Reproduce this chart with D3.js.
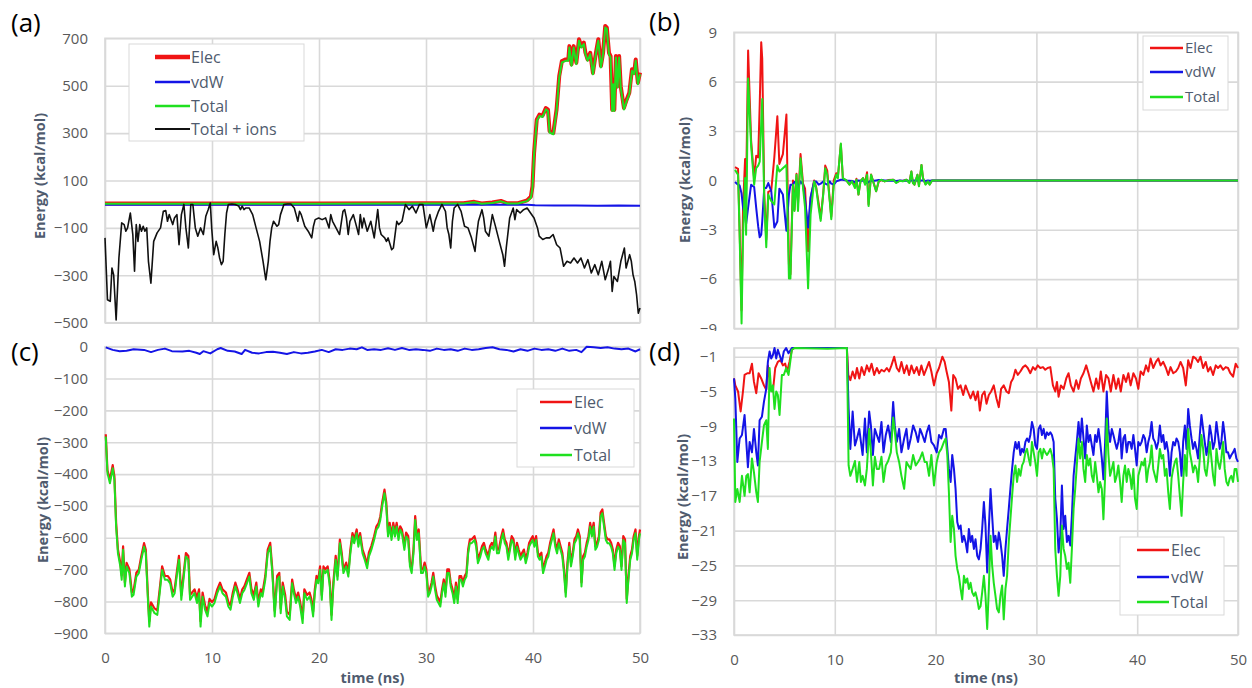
<!DOCTYPE html>
<html>
<head>
<meta charset="utf-8">
<script src="https://cdn.jsdelivr.net/npm/d3@7"></script>
<style>
  body { margin: 0; background: #fff; }
  svg { font-family: "Open Sans", sans-serif; }
  .grid line { stroke: #d9d9d9; stroke-width: 1.6; }
  .grid path { display: none; }
  .ticks text { font-size: 15px; fill: #595959; font-family: "Open Sans", sans-serif; }
  .axis-title { font-size: 14.5px; font-weight: bold; fill: #4f5b6e; }
  .legend text { font-size: 16px; fill: #4f5b6e; }
  .panel-label { font-size: 26px; fill: #000; }
</style>
</head>
<body>
<div id="chart"></div>
<script>
// shared x ticks (time, ns)
const xTicks = [0, 10, 20, 30, 40, 50];

// ---------- panel (a) ----------
const aTicks = [-500, -300, -100, 100, 300, 500, 700];
const aTime = [0, 10, 20, 30, 33.5, 34.5, 35.2, 36.2, 37.0, 37.6, 38.6, 39.0, 39.45, 39.8, 39.95, 40.1,
  40.35, 40.6, 40.9, 41.2, 41.4, 41.55, 41.9, 42.2, 42.45, 42.7, 43.05, 43.3, 43.4, 43.6, 43.8, 44.05,
  44.3, 44.5, 44.75, 44.9, 45.1, 45.35, 45.6, 45.88, 46.1, 46.35, 46.55, 46.75, 46.9, 47.1, 47.25, 47.4,
  47.5, 47.6, 47.75, 47.9, 48.05, 48.2, 48.5, 48.75, 49.0, 49.25, 49.45, 49.6, 49.8, 50];
const aElec = [3, 3, 3, 4, 4, 10, 3, 7, 14, 4, 4, 10, 16, 32, 75, 216, 357, 378, 374, 406, 399, 308,
  301, 399, 540, 604, 611, 611, 667, 590, 667, 597, 696, 667, 682, 639, 611, 639, 554, 639, 696, 583,
  639, 752, 745, 639, 625, 399, 512, 399, 625, 498, 625, 498, 406, 441, 470, 569, 555, 611, 512, 555];
const aTotal = [2, 2, 2, 3, 3, 8, 2, 5, 12, 3, 3, 8, 13, 27, 69, 210, 351, 372, 368, 400, 393, 302,
  295, 393, 534, 598, 605, 605, 661, 584, 661, 591, 690, 661, 676, 633, 605, 633, 548, 633, 690, 577,
  633, 746, 739, 633, 619, 393, 506, 393, 619, 492, 619, 492, 400, 435, 464, 563, 549, 605, 506, 549];
const aVdwTime = [0, 10, 20, 30, 39.5, 40.2, 42, 44, 46, 48, 50];
const aVdw = [-2, -2, -2, -2, -2, -4, -5, -6, -7, -6, -7];
const aIonsTime = [0, 0.23, 0.49, 0.65, 0.81, 1.04, 1.3, 1.56, 1.79, 1.95,
  2.11, 2.37, 2.6, 2.76, 2.92, 3.08, 3.25, 3.41, 3.57, 3.73,
  3.9, 4.06, 4.29, 4.55, 4.87, 5.19, 5.45, 5.68, 5.84, 6.0,
  6.33, 6.49, 6.72, 6.92, 7.14, 7.37, 7.56, 7.79, 8.02, 8.21,
  8.44, 8.67, 8.93, 9.19, 9.42, 9.64, 9.84, 9.97, 10.16, 10.39,
  10.55, 10.71, 10.88, 11.04, 11.2, 11.36, 11.53, 11.85, 12.18, 12.5,
  12.66, 12.82, 12.99, 13.15, 13.47, 13.8, 14.12, 14.45, 14.77, 15.03,
  15.26, 15.42, 15.58, 15.75, 16.07, 16.23, 16.4, 16.72, 17.05, 17.37,
  17.69, 17.86, 18.02, 18.18, 18.34, 18.67, 18.99, 19.32, 19.48, 19.64,
  19.97, 20.29, 20.62, 20.94, 21.1, 21.27, 21.59, 21.92, 22.24, 22.4,
  22.56, 22.73, 22.89, 23.21, 23.54, 23.7, 23.86, 24.03, 24.19, 24.51,
  24.84, 25.16, 25.49, 25.65, 25.81, 26.14, 26.3, 26.46, 26.79, 26.95,
  27.11, 27.27, 27.44, 27.76, 28.08, 28.41, 28.73, 29.06, 29.38, 29.71,
  30.03, 30.36, 30.68, 30.84, 31.17, 31.49, 31.66, 31.82, 31.98, 32.14,
  32.31, 32.47, 32.63, 32.95, 33.28, 33.6, 33.93, 34.25, 34.58, 34.74,
  34.9, 35.23, 35.39, 35.55, 35.88, 36.2, 36.53, 36.85, 37.18, 37.34,
  37.5, 37.82, 38.15, 38.31, 38.47, 38.8, 39.12, 39.45, 39.77, 40.1,
  40.42, 40.58, 40.91, 41.23, 41.56, 41.88, 42.21, 42.53, 42.86, 43.18,
  43.51, 43.83, 44.16, 44.48, 44.81, 45.13, 45.45, 45.78, 46.1, 46.43,
  46.75, 47.08, 47.24, 47.4, 47.56, 47.89, 48.21, 48.54, 48.7, 49.03,
  49.19, 49.35, 49.51, 49.68, 49.84, 50];
const aIons = [-142, -403, -410, -269, -298, -488, -227, -79, -86, -114,
  -100, -37, -128, -283, -86, -157, -86, -114, -93, -114,
  -100, -241, -333, -157, -121, -100, -30, -27, -72, -44,
  -86, -58, -44, -171, -44, -1, -100, -185, -1, -1,
  -100, -135, -100, -128, -51, -23, 5, -100, -213, -157,
  -185, -227, -255, -241, -128, -37, -1, 1, -1, -8,
  -23, -8, -23, -16, -16, -44, -100, -157, -241, -319,
  -241, -157, -100, -72, -93, -86, -44, -1, 1, 1,
  -16, -44, -72, -30, -44, -93, -114, -142, -93, -65,
  -58, -65, -58, -100, -44, -72, -100, -128, -30, -23,
  -58, -128, -72, -44, -100, -128, -44, -100, -58, -114,
  -72, -142, -23, -100, -128, -142, -157, -142, -192, -185,
  -128, -72, -86, -72, -1, -23, -8, -37, -1, -1,
  -100, -44, -114, -72, -30, -1, -16, -30, -100, -128,
  -185, -72, -16, -1, -30, -93, -100, -142, -199, -128,
  -72, -23, -58, -114, -135, -44, -100, -157, -213, -262,
  -185, -58, -16, -65, -23, -37, -23, -16, -37, -58,
  -100, -135, -149, -142, -142, -128, -171, -185, -262, -241,
  -248, -227, -248, -227, -269, -234, -290, -255, -298, -241,
  -319, -269, -241, -368, -305, -326, -241, -185, -269, -213,
  -241, -298, -326, -382, -460, -438];

// ---------- panel (b) ----------
const bTicks = [-9, -6, -3, 0, 3, 6, 9];
const bTime = [0.1, 0.4, 0.55, 0.75, 0.9, 1.1, 1.2, 1.4, 1.7, 2.0,
  2.2, 2.4, 2.55, 2.7, 2.8, 3.0, 3.2, 3.4, 3.7, 4.0,
  4.3, 4.5, 4.85, 5.2, 5.45, 5.6, 5.85, 6.0, 6.2, 6.35,
  6.6, 6.85, 7.05, 7.35, 7.6, 7.95, 8.15, 8.4, 8.6, 8.85,
  9.05, 9.25, 9.5, 9.65, 9.9, 10.15, 10.3, 10.6, 10.8, 11.15,
  11.45, 11.7, 12.0, 12.15, 12.35, 12.55, 12.8, 13.0, 13.2, 13.35,
  13.6, 13.9, 14.1, 14.35, 14.6, 14.95, 15.3, 15.8, 16.1, 16.45,
  16.75, 17.1, 17.4, 17.6, 17.75, 17.9, 18.2, 18.35, 18.6, 18.75,
  19.0, 19.25, 19.4, 19.65, 20, 30, 40, 50];
const bElec = [0.8, 0.7, -2.8, -7.9, -1.6, 1.3, -0.6, 7.9, 2.4, 0.1,
  1.5, 1.4, 4.6, 8.4, 7.4, -0.8, -3.6, -0.7, -0.6, 1.4,
  3.9, 1.0, 1.6, 4.0, -5.1, -5.7, 0.0, -1.8, 0.4, -1.4,
  1.6, -0.2, -0.5, -4.3, -1.1, 0.0, -0.4, -1.4, -2.3, -0.8,
  0.9, 0.6, -1.2, -2.2, 0.0, 0.44, 0.16, 2.2, 0.1, 0,
  -0.24, -0.02, -0.36, 0.1, -0.86, -0.04, 0.14, -0.16, 0.5, -1.46,
  0.36, -0.24, -0.66, -0.08, 0.02, -0.06, 0.02, 0.04, -0.12, -0.02,
  -0.04, 0.04, -0.12, 0.54, -0.14, -0.26, 0.34, -0.34, 0.94, 0.14,
  -0.22, -0.06, -0.24, 0, 0, 0, 0, 0];
const bVdw = [-0.1, -0.26, -0.3, -0.8, -1.66, -2.2, -2.66, -1.66, -0.26, -0.4,
  -1.66, -2.8, -3.46, -3.3, -2.5, -0.46, -0.46, -0.16, -0.66, -2.86,
  -2.5, -0.5, -0.86, -3.06, -0.86, -0.26, -0.26, -0.1, -0.06, -0.46,
  -0.06, -0.26, -1.2, -2.86, -1.0, -0.06, -0.06, -0.26, -0.2, -0.06,
  -0.2, -0.26, -0.06, -0.2, -0.26, -0.06, -0.02, 0.04, 0.04, 0,
  -0.02, -0.04, -0.1, -0.06, 0, -0.02, 0, -0.1, -0.16, -0.1,
  -0.02, -0.02, 0, 0.02, 0.02, 0, -0.02, 0, -0.04, 0,
  -0.02, 0, -0.04, 0, -0.02, 0, 0, -0.02, 0, 0,
  -0.04, 0, -0.02, 0, 0, 0, 0, 0];
const bTotal = [0.64, 0.34, -3.1, -8.7, -3.3, 0.14, -3.3, 6.2, 2.1, -0.26,
  0.74, 0.9, 1.14, 3.5, 4.94, -1.26, -4.06, -0.86, -1.26, -1.46,
  0.9, 0.54, 0.74, 0.94, -5.96, -5.96, -0.26, -1.86, 0.34, -1.86,
  1.34, -0.46, -1.66, -6.56, -2.06, -0.06, -0.46, -1.66, -2.46, -0.86,
  0.74, 0.34, -1.26, -2.36, -0.26, 0.34, 0.14, 2.24, 0.14, 0,
  -0.26, -0.06, -0.46, 0.04, -0.86, -0.06, 0.14, -0.26, 0.34, -1.56,
  0.34, -0.26, -0.66, -0.06, 0.04, -0.06, 0, 0.04, -0.16, -0.02,
  -0.06, 0.04, -0.16, 0.54, -0.16, -0.26, 0.34, -0.36, 0.94, 0.14,
  -0.26, -0.06, -0.26, 0, 0, 0, 0, 0];

// ---------- panel (c) ----------
const cTicks = [0, -100, -200, -300, -400, -500, -600, -700, -800, -900];
const cTime = [0.07, 0.23, 0.46, 0.72, 0.88, 1.04, 1.21, 1.43, 1.56, 1.69,
  1.86, 2.02, 2.28, 2.51, 2.67, 2.93, 3.16, 3.39, 3.65, 3.81,
  4.04, 4.14, 4.3, 4.63, 4.89, 5.11, 5.34, 5.6, 5.86, 6.09,
  6.32, 6.51, 6.74, 6.91, 7.13, 7.33, 7.56, 7.79, 7.95, 8.14,
  8.37, 8.6, 8.79, 8.93, 9.12, 9.35, 9.58, 9.77, 10.0, 10.23,
  10.49, 10.75, 10.98, 11.3, 11.53, 11.73, 11.95, 12.18, 12.38, 12.61,
  12.83, 13.03, 13.26, 13.49, 13.68, 13.91, 14.14, 14.33, 14.56, 14.72,
  14.98, 15.21, 15.44, 15.64, 15.86, 16.09, 16.29, 16.42, 16.61, 16.84,
  17.0, 17.26, 17.49, 17.65, 17.85, 18.05, 18.24, 18.47, 18.63, 18.89,
  19.12, 19.28, 19.45, 19.61, 19.77, 19.93, 20.1, 20.26, 20.42, 20.59,
  20.81, 21.01, 21.17, 21.34, 21.56, 21.73, 21.95, 22.12, 22.28, 22.54,
  22.74, 22.93, 23.13, 23.29, 23.52, 23.68, 23.84, 24.07, 24.27, 24.5,
  24.66, 24.89, 25.15, 25.37, 25.57, 25.73, 25.9, 26.12, 26.29, 26.45,
  26.61, 26.78, 26.94, 27.1, 27.26, 27.43, 27.59, 27.75, 27.98, 28.14,
  28.34, 28.5, 28.66, 28.83, 28.99, 29.15, 29.32, 29.54, 29.71, 29.87,
  30.03, 30.2, 30.36, 30.52, 30.68, 30.85, 31.01, 31.17, 31.34, 31.5,
  31.66, 31.82, 31.99, 32.15, 32.31, 32.48, 32.64, 32.8, 32.96, 33.13,
  33.29, 33.45, 33.62, 33.78, 33.94, 34.1, 34.27, 34.53, 34.69, 34.85,
  35.08, 35.24, 35.41, 35.57, 35.83, 35.99, 36.16, 36.32, 36.48, 36.64,
  36.81, 37.04, 37.2, 37.36, 37.52, 37.69, 37.85, 38.01, 38.18, 38.34,
  38.5, 38.66, 38.83, 38.99, 39.15, 39.32, 39.48, 39.64, 39.8, 39.97,
  40.13, 40.29, 40.46, 40.62, 40.78, 40.94, 41.11, 41.27, 41.43, 41.6,
  41.76, 41.92, 42.08, 42.25, 42.41, 42.57, 42.74, 42.9, 43.06, 43.22,
  43.39, 43.55, 43.71, 43.88, 44.04, 44.2, 44.37, 44.53, 44.69, 44.85,
  45.02, 45.18, 45.34, 45.5, 45.67, 45.83, 45.99, 46.16, 46.32, 46.48,
  46.64, 46.81, 46.97, 47.13, 47.3, 47.46, 47.62, 47.78, 47.95, 48.11,
  48.27, 48.44, 48.6, 48.76, 48.92, 49.09, 49.25, 49.41, 49.58, 49.74,
  49.9, 50.0];
const cElec = [-275, -388, -418, -372, -407, -553, -637, -679, -718, -627,
  -741, -679, -699, -771, -766, -710, -700, -658, -617, -637,
  -800, -862, -803, -822, -828, -762, -690, -720, -720, -731,
  -771, -762, -700, -657, -780, -720, -648, -657, -780, -772,
  -762, -790, -762, -862, -772, -812, -833, -792, -802, -793,
  -762, -741, -762, -772, -802, -812, -772, -741, -762, -792,
  -762, -752, -731, -710, -760, -780, -741, -802, -762, -772,
  -720, -637, -616, -700, -830, -720, -710, -822, -741, -780,
  -832, -842, -731, -762, -792, -772, -802, -852, -762, -780,
  -772, -792, -832, -762, -720, -731, -690, -780, -690, -700,
  -690, -740, -842, -741, -657, -720, -606, -647, -700, -678,
  -710, -637, -585, -605, -574, -616, -585, -637, -657, -683,
  -647, -626, -595, -564, -554, -533, -491, -449, -490, -583,
  -553, -595, -553, -584, -553, -595, -564, -574, -625, -584,
  -595, -677, -698, -637, -532, -595, -574, -698, -699, -678,
  -699, -771, -762, -741, -710, -751, -781, -792, -802, -762,
  -731, -772, -699, -699, -741, -762, -792, -741, -792, -720,
  -720, -741, -720, -710, -637, -605, -605, -595, -616, -667,
  -647, -626, -616, -637, -657, -626, -616, -626, -584, -637,
  -637, -595, -574, -605, -616, -657, -626, -595, -605, -657,
  -616, -637, -657, -647, -637, -668, -647, -616, -605, -595,
  -616, -595, -647, -657, -647, -698, -678, -657, -647, -616,
  -595, -574, -616, -637, -605, -626, -647, -698, -771, -678,
  -616, -678, -647, -605, -595, -574, -595, -740, -657, -647,
  -616, -595, -553, -584, -553, -626, -616, -595, -521, -511,
  -553, -595, -605, -605, -616, -637, -688, -637, -616, -626,
  -689, -595, -605, -792, -720, -657, -637, -595, -574, -657,
  -595, -574];
const cTotal = [-282, -397, -429, -382, -418, -565, -649, -690, -732, -638,
  -753, -690, -711, -785, -779, -722, -711, -669, -628, -649,
  -816, -879, -816, -837, -842, -774, -701, -732, -732, -743,
  -785, -774, -711, -669, -795, -732, -659, -669, -795, -785,
  -774, -805, -774, -879, -785, -826, -847, -805, -816, -805,
  -774, -753, -774, -785, -816, -826, -785, -753, -774, -805,
  -774, -764, -743, -722, -774, -795, -753, -816, -774, -785,
  -732, -649, -628, -711, -847, -732, -722, -837, -753, -795,
  -847, -858, -743, -774, -805, -785, -816, -868, -774, -795,
  -785, -805, -847, -774, -732, -743, -701, -795, -701, -711,
  -701, -753, -858, -753, -669, -732, -617, -659, -711, -690,
  -722, -649, -596, -617, -586, -628, -596, -649, -669, -696,
  -659, -638, -607, -575, -565, -544, -502, -460, -502, -596,
  -565, -607, -565, -596, -565, -607, -575, -586, -638, -596,
  -607, -690, -711, -649, -544, -607, -586, -711, -711, -690,
  -711, -785, -774, -753, -722, -764, -795, -805, -816, -774,
  -743, -785, -711, -711, -753, -774, -805, -753, -805, -732,
  -732, -753, -732, -722, -649, -617, -617, -607, -628, -680,
  -659, -638, -628, -649, -669, -638, -628, -638, -596, -649,
  -649, -607, -586, -617, -628, -669, -638, -607, -617, -669,
  -628, -649, -669, -659, -649, -680, -659, -628, -617, -607,
  -628, -607, -659, -669, -659, -711, -690, -669, -659, -628,
  -607, -586, -628, -649, -617, -638, -659, -711, -785, -690,
  -628, -690, -659, -617, -607, -586, -607, -753, -669, -659,
  -628, -607, -565, -596, -565, -638, -628, -607, -533, -523,
  -565, -607, -617, -617, -628, -649, -701, -649, -628, -638,
  -701, -607, -617, -805, -732, -669, -649, -607, -586, -669,
  -607, -586];
const cVdwTime = [0.07, 0.72, 1.37, 2.02, 2.67, 3.65, 4.3, 4.95, 5.6, 6.25,
  7.23, 7.88, 8.53, 8.86, 9.19, 9.84, 10.49, 10.81, 11.47, 12.12,
  12.77, 13.09, 13.75, 14.4, 15.05, 15.7, 16.35, 17.0, 17.65, 18.31,
  18.96, 19.61, 20.26, 20.91, 21.56, 22.21, 22.87, 23.52, 24.01, 24.5,
  25.15, 25.8, 26.45, 27.1, 27.75, 28.4, 29.06, 29.71, 30.36, 31.01,
  31.66, 32.31, 32.96, 33.62, 34.27, 34.92, 35.57, 36.22, 36.87, 37.52,
  38.18, 38.83, 39.48, 40.13, 40.78, 41.43, 42.08, 42.74, 43.39, 44.04,
  44.53, 45.02, 45.67, 46.32, 46.97, 47.62, 48.27, 48.92, 49.58, 50];
const cVdw = [-2, -10, -14, -13, -8, -10, -17, -10, -6, -14,
  -15, -13, -19, -23, -14, -21, -8, -4, -13, -15,
  -23, -10, -19, -21, -17, -16, -19, -23, -17, -21,
  -19, -15, -10, -17, -8, -10, -6, -8, -2, -10,
  -8, -10, -5, -10, -4, -10, -8, -10, -13, -6,
  -10, -8, -13, -6, -10, -8, -4, -2, -8, -10,
  -15, -8, -13, -6, -10, -8, -13, -6, -13, -10,
  -17, 0, -2, -4, -2, -6, -8, -6, -15, -8];

// ---------- panel (d) ----------
const dTicks = [-33, -29, -25, -21, -17, -13, -9, -5, -1];
const dTime = [0, 0.13, 0.33, 0.56, 0.79, 1.05, 1.22, 1.38, 1.55, 1.78,
  1.98, 2.21, 2.37, 2.54, 2.77, 2.97, 3.2, 3.36, 3.53, 3.69,
  3.86, 4.02, 4.19, 4.35, 4.52, 4.75, 4.94, 5.17, 5.41, 5.74,
  6.0, 9.3, 11.2,
  11.37, 11.54, 11.77, 12.0, 12.2, 12.43, 12.59, 12.76, 12.99, 13.18,
  13.41, 13.58, 13.78, 13.97, 14.17, 14.4, 14.63, 14.83, 15.06, 15.29,
  15.56, 15.79, 15.95, 16.15, 16.38, 16.61, 16.88, 17.11, 17.3, 17.53,
  17.77, 18.03, 18.26, 18.46, 18.69, 18.92, 19.12, 19.35, 19.58, 19.84,
  20.11, 20.34, 20.57, 20.83, 21.0,
  21.16, 21.32, 21.49, 21.65, 21.82, 21.98, 22.15, 22.31, 22.48, 22.64,
  22.81, 22.97, 23.14, 23.30, 23.47, 23.63, 23.80, 23.96, 24.13, 24.29,
  24.46, 24.62, 24.79, 24.95, 25.12, 25.28, 25.45, 25.61, 25.77, 25.94,
  26.10, 26.27, 26.43, 26.60, 26.76, 26.93, 27.09, 27.26, 27.42, 27.59,
  27.75, 27.92, 28.08, 28.25, 28.41, 28.58, 28.74, 28.91, 29.07, 29.24,
  29.40, 29.56, 29.73, 29.89, 30.06, 30.22, 30.39, 30.55, 30.72, 30.88,
  31.05, 31.21, 31.38, 31.54, 31.71, 31.87, 32.04, 32.20, 32.37, 32.53,
  32.70, 32.86, 33.03, 33.19, 33.36, 33.52, 33.69, 33.85, 34.01, 34.18,
  34.34, 34.51, 34.67, 34.84, 35.00, 35.17, 35.33, 35.50, 35.66, 35.83,
  35.99, 36.16, 36.32, 36.49, 36.65, 36.82, 36.98, 37.15, 37.31, 37.48,
  37.64, 37.80, 37.97, 38.13, 38.30, 38.46, 38.63, 38.79, 38.96, 39.12,
  39.29, 39.45, 39.62, 39.78, 39.95, 40.11, 40.28, 40.44, 40.61, 40.77,
  40.94, 41.10, 41.27, 41.43, 41.59, 41.76, 41.92, 42.09, 42.25, 42.42,
  42.58, 42.75, 42.91, 43.08, 43.24, 43.41, 43.57, 43.74, 43.90, 44.07,
  44.23, 44.40, 44.56, 44.73, 44.89, 45.06, 45.22, 45.39, 45.55, 45.72,
  45.88, 46.04, 46.21, 46.37, 46.54, 46.70, 46.87, 47.03, 47.20, 47.36,
  47.53, 47.69, 47.86, 48.02, 48.19, 48.35, 48.52, 48.68, 48.85, 49.01,
  49.18, 49.34, 49.51, 49.67, 49.84, 50.00];
const dVdw = [-3.5, -5.8, -13.1, -10.4, -10.0, -7.7, -10.8, -13.7, -10.8, -12.0,
  -9.3, -12.0, -13.5, -8.3, -7.9, -6.2, -4.7, -1.6, -0.4, -1.2,
  -0.8, 0, -1.2, -0.2, -0.8, -1.6, -0.4, 0, -0.6, 0,
  0, 0, 0,
  -7.0, -11.6, -7.3, -11.2, -10.4, -9.3, -10.8, -12.3, -8.1, -12.0,
  -7.3, -8.9, -12.3, -9.3, -10.0, -10.8, -8.5, -12.0, -10.0, -8.9,
  -10.8, -6.2, -8.9, -10.8, -9.3, -12.0, -10.4, -9.3, -11.6, -10.4,
  -8.9, -9.7, -10.8, -9.3, -10.0, -10.8, -9.7, -8.9, -10.8, -11.2,
  -12.0, -10.0, -10.4, -9.3, -9.3,
  -11.5, -13.9, -15.4, -12.3, -13.9, -16.2, -20.0, -20.8, -20.4, -22.3,
  -21.6, -22.3, -23.5, -20.8, -22.3, -21.6, -23.1, -22.0, -23.9, -24.3,
  -23.1, -20.8, -17.7, -20.4, -25.8, -20.8, -16.2, -19.3, -22.3, -21.6,
  -23.1, -21.2, -22.3, -23.9, -26.2, -23.1, -20.8, -18.5, -16.2, -13.9,
  -12.0, -10.8, -11.6, -10.8, -12.3, -11.6, -12.0, -10.8, -10.4, -10.8,
  -10.0, -8.5, -9.3, -11.2, -11.6, -9.3, -8.9, -10.0, -9.3, -10.4,
  -9.7, -10.0, -9.7, -10.0, -10.8, -17.3, -19.7, -23.5, -21.6, -15.8,
  -20.8, -19.3, -22.3, -21.6, -22.7, -19.3, -14.7, -12.7, -10.8, -8.5,
  -10.8, -8.1, -10.4, -12.7, -8.9, -10.8, -10.0, -11.2, -12.3, -10.0,
  -10.8, -9.3, -10.8, -12.7, -15.1, -10.8, -5.0, -9.3, -10.8, -9.3,
  -10.0, -10.8, -11.6, -10.8, -9.3, -12.7, -10.4, -10.0, -12.0, -10.8,
  -10.8, -11.6, -10.0, -11.6, -13.5, -10.8, -11.2, -10.8, -10.0, -10.4,
  -12.0, -10.8, -10.0, -8.5, -10.4, -10.8, -11.6, -10.8, -8.9, -10.8,
  -10.0, -11.6, -10.8, -12.0, -14.7, -12.0, -10.8, -11.2, -10.4, -10.8,
  -12.0, -14.7, -10.8, -8.9, -11.6, -7.0, -8.9, -10.4, -11.6, -10.8,
  -11.6, -12.7, -10.0, -7.7, -9.3, -10.8, -12.3, -11.2, -8.9, -10.0,
  -11.6, -10.8, -8.5, -10.0, -11.6, -10.8, -8.5, -10.0, -12.0, -12.0,
  -12.7, -12.3, -12.0, -11.6, -12.7, -13.1];
const dTotal = [-8.1, -17.7, -16.2, -17.7, -14.7, -17.0, -14.7, -14.5, -16.6, -12.7,
  -14.3, -16.6, -17.7, -13.1, -10.8, -8.9, -8.3, -11.6, -2.3, -5.0,
  -4.3, -7.0, -5.0, -5.4, -7.7, -3.1, -3.1, -2.3, -3.1, -0.2,
  0, -0.1, 0,
  -13.5, -14.7, -13.9, -13.0, -15.4, -13.1, -15.4, -14.7, -15.8, -13.9,
  -9.3, -12.0, -15.8, -12.5, -13.9, -13.9, -12.5, -15.4, -13.5, -13.0,
  -12.0, -8.0, -9.5, -12.0, -13.1, -14.7, -16.2, -13.1, -13.5, -13.9,
  -12.3, -13.5, -13.1, -12.7, -12.0, -13.1, -13.1, -14.7, -12.3, -15.8,
  -13.1, -12.0, -11.6, -10.8, -10.4,
  -12.3, -16.6, -22.3, -19.3, -20.8, -23.9, -25.4, -26.2, -27.7, -28.9,
  -26.2, -27.0, -26.5, -27.7, -27.0, -28.1, -28.5, -28.1, -28.9, -30.0,
  -29.7, -28.1, -26.2, -28.5, -32.3, -27.7, -21.6, -25.0, -27.0, -28.5,
  -30.0, -30.4, -28.5, -27.3, -31.2, -27.7, -26.2, -22.3, -19.7, -17.0,
  -14.7, -13.5, -15.4, -13.9, -14.7, -13.5, -13.1, -12.0, -11.6, -12.7,
  -13.5, -10.8, -12.0, -13.1, -14.7, -12.0, -11.6, -12.7, -11.6, -12.0,
  -12.3, -12.0, -11.6, -12.3, -13.9, -23.1, -26.2, -28.5, -26.2, -20.4,
  -23.1, -23.9, -25.4, -24.7, -27.0, -23.1, -18.5, -16.2, -13.5, -10.4,
  -12.7, -10.8, -13.9, -15.4, -12.3, -13.5, -12.7, -14.7, -15.4, -13.1,
  -14.7, -16.6, -15.4, -16.2, -19.7, -14.7, -8.1, -12.3, -14.7, -13.9,
  -13.1, -15.4, -14.7, -13.5, -15.4, -17.7, -14.7, -13.5, -15.4, -13.9,
  -14.7, -16.2, -13.9, -17.3, -18.5, -14.7, -13.9, -13.1, -13.5, -12.7,
  -15.4, -13.9, -13.1, -11.2, -13.9, -14.7, -15.4, -13.5, -11.6, -12.7,
  -12.3, -14.7, -13.9, -16.6, -18.5, -15.0, -13.9, -13.1, -12.7, -14.7,
  -17.0, -19.3, -15.4, -12.3, -14.7, -9.3, -12.0, -13.1, -14.3, -13.5,
  -13.9, -15.4, -12.7, -10.0, -11.6, -13.9, -14.7, -13.1, -10.8, -12.7,
  -14.7, -15.8, -11.6, -13.1, -13.9, -12.7, -10.8, -13.9, -15.4, -15.8,
  -15.0, -14.7, -15.4, -13.9, -13.9, -15.4];
const dElecTime = [0, 0.13, 0.4, 0.66, 0.89, 1.05, 1.32, 1.55, 1.78, 1.98,
  2.21, 2.44, 2.7, 2.97, 3.2, 3.36, 3.63, 3.86, 4.09, 4.35,
  4.61, 4.85, 5.08, 5.27, 5.5, 5.74, 6.0, 11.2, 11.34, 11.54,
  11.77, 12.0, 12.2, 12.43, 12.66, 12.92, 13.18, 13.41, 13.65, 13.91,
  14.17, 14.4, 14.63, 14.9, 15.16, 15.39, 15.62, 15.89, 16.15, 16.38,
  16.61, 16.88, 17.14, 17.37, 17.6, 17.86, 18.13, 18.36, 18.59, 18.85,
  19.12, 19.35, 19.58, 19.84, 20.11, 20.34, 20.67, 20.9, 21.09, 21.32,
  21.56, 21.75, 21.98, 22.22, 22.48, 22.74, 22.97, 23.2, 23.47, 23.73,
  23.96, 24.19, 24.39, 24.62, 24.85, 25.05, 25.28, 25.51, 25.77, 26.04,
  26.27, 26.5, 26.76, 27.03, 27.26, 27.49, 27.69, 27.92, 28.15, 28.41,
  28.67, 28.91, 29.14, 29.4, 29.66, 29.89, 30.13, 30.39, 30.65, 30.88,
  31.11, 31.38, 31.64, 31.87, 32.04, 32.2, 32.43, 32.7, 32.96, 33.19,
  33.42, 33.69, 33.95, 34.18, 34.41, 34.67, 34.94, 35.17, 35.4, 35.66,
  35.93, 36.16, 36.39, 36.65, 36.91, 37.15, 37.38, 37.64, 37.9, 38.13,
  38.37, 38.63, 38.89, 39.12, 39.35, 39.62, 39.88, 40.11, 40.34, 40.61,
  40.87, 41.1, 41.33, 41.59, 41.86, 42.09, 42.32, 42.58, 42.85, 43.08,
  43.31, 43.57, 43.84, 44.07, 44.3, 44.56, 44.82, 45.06, 45.29, 45.55,
  45.81, 46.04, 46.28, 46.54, 46.8, 47.03, 47.26, 47.53, 47.79, 48.02,
  48.25, 48.52, 48.78, 49.01, 49.24, 49.51, 49.77, 50];
const dElec = [-3.5, -4.3, -5.0, -7.3, -5.0, -3.1, -2.9, -2.9, -1.8, -3.9,
  -5.2, -2.9, -3.5, -4.3, -4.8, -2.0, -4.7, -5.0, -2.3, -1.6,
  -1.4, -2.0, -1.8, -2.7, -1.6, -0.2, 0, 0, -3.1, -3.7,
  -2.7, -3.5, -2.3, -3.5, -2.2, -3.1, -2.0, -2.7, -1.8, -3.1,
  -2.3, -2.9, -2.5, -2.7, -2.3, -2.7, -2.0, -1.0, -2.3, -2.7,
  -1.6, -2.9, -2.0, -3.1, -2.0, -2.9, -2.2, -3.1, -2.0, -3.1,
  -2.3, -1.6, -2.7, -4.3, -2.9, -2.3, -1.0, -1.6, -2.7, -3.9,
  -7.2, -3.1, -3.5, -4.7, -4.3, -5.4, -4.3, -5.0, -5.8, -5.0,
  -6.0, -5.0, -7.2, -5.4, -5.0, -6.4, -5.4, -5.0, -4.3, -5.8,
  -6.8, -4.7, -4.3, -5.0, -5.2, -3.9, -3.5, -2.5, -3.1, -2.7,
  -2.2, -2.0, -2.3, -2.9, -2.2, -2.5, -2.0, -2.3, -2.2, -2.5,
  -2.3, -2.2, -4.3, -5.0, -3.9, -5.6, -4.3, -4.7, -3.5, -2.9,
  -4.3, -5.0, -3.7, -4.7, -3.5, -2.9, -2.0, -2.9, -3.9, -5.0,
  -3.5, -4.7, -2.7, -5.0, -3.1, -3.5, -5.0, -3.1, -4.7, -3.5,
  -5.0, -3.1, -3.9, -2.9, -4.3, -2.9, -3.5, -4.7, -2.7, -3.1,
  -2.0, -2.7, -1.2, -2.3, -1.6, -1.2, -2.0, -1.6, -2.3, -3.1,
  -2.2, -2.9, -2.7, -2.3, -1.6, -2.3, -4.3, -1.4, -2.3, -1.0,
  -1.2, -1.6, -1.0, -2.3, -1.6, -2.7, -2.2, -3.1, -2.0, -2.3,
  -2.0, -2.5, -2.2, -2.3, -2.9, -3.3, -1.8, -2.3];

// colours
const RED = "#f01414", BLUE = "#1414e6", GREEN = "#1fe01f", BLACK = "#111";

const svg = d3.select("#chart").append("svg")
  .attr("width", 1252).attr("height", 688);

function pts(t, v) {
  const n = Math.min(t.length, v.length);
  if (t.length !== v.length) console.warn("length mismatch", t.length, v.length);
  return d3.range(n).map(i => ({ t: t[i], v: v[i] }));
}

function drawPanel(cfg) {
  const g = svg.append("g");
  // white backing only where a lower panel overlaps the one above it
  if (cfg.bg) {
    g.append("rect").attr("x", cfg.bg[0]).attr("y", cfg.bg[1])
      .attr("width", cfg.bg[2]).attr("height", cfg.bg[3]).attr("fill", "#fff");
  }

  const x = d3.scaleLinear().domain([0, 50]).range([cfg.left, cfg.right]);
  const y = d3.scaleLinear().domain(cfg.yDomain).range([cfg.bottom, cfg.top]);
  const w = cfg.right - cfg.left, h = cfg.bottom - cfg.top;

  // grid
  g.append("g").attr("class", "grid")
    .attr("transform", `translate(${cfg.left},0)`)
    .call(d3.axisLeft(y).tickValues(cfg.yTicks).tickSize(-w).tickFormat(""));
  g.append("g").attr("class", "grid")
    .attr("transform", `translate(0,${cfg.bottom})`)
    .call(d3.axisBottom(x).tickValues(xTicks).tickSize(-h).tickFormat(""));
  g.append("rect").attr("x", cfg.left).attr("y", cfg.top).attr("width", w).attr("height", h)
    .attr("fill", "none").attr("stroke", "#d9d9d9").attr("stroke-width", 1.6);

  // y tick labels
  g.append("g").attr("class", "ticks")
    .attr("transform", `translate(${cfg.left},0)`)
    .call(d3.axisLeft(y).tickValues(cfg.yTicks).tickSize(0).tickPadding(17))
    .call(s => s.select(".domain").remove());

  // x tick labels (bottom panels only)
  if (cfg.xLabels) {
    g.append("g").attr("class", "ticks")
      .attr("transform", `translate(0,${cfg.bottom})`)
      .call(d3.axisBottom(x).tickValues(xTicks).tickSize(0).tickPadding(19))
      .call(s => s.select(".domain").remove());
    g.append("text").attr("class", "axis-title")
      .attr("x", (cfg.left + cfg.right) / 2).attr("y", 683)
      .attr("text-anchor", "middle").text("time (ns)");
  }

  g.append("text").attr("class", "axis-title")
    .attr("transform", `translate(${cfg.titleX},${cfg.titleY}) rotate(-90)`)
    .attr("text-anchor", "middle").attr("dy", "0.35em")
    .text("Energy (kcal/mol)");

  g.append("text").attr("class", "panel-label")
    .attr("x", cfg.label[0]).attr("y", cfg.label[1]).text(cfg.label[2]);

  const line = d3.line().x(d => x(d.t)).y(d => y(d.v));
  cfg.series.forEach(s => {
    g.append("path").datum(s.data)
      .attr("fill", "none").attr("stroke", s.color)
      .attr("stroke-width", s.width).attr("stroke-linejoin", "round")
      .attr("d", line);
  });

  // legend
  const L = cfg.legend;
  const lg = g.append("g").attr("class", "legend");
  lg.append("rect").attr("x", L.x).attr("y", L.y).attr("width", L.w).attr("height", L.h)
    .attr("fill", "#fff").attr("stroke", "#d9d9d9").attr("stroke-width", 1);
  cfg.series.forEach((s, i) => {
    const yy = L.rows[i];
    lg.append("line").attr("x1", L.x1).attr("x2", L.x2).attr("y1", yy).attr("y2", yy)
      .attr("stroke", s.color).attr("stroke-width", s.legendWidth || 2.5);
    lg.append("text").attr("x", L.tx).attr("y", yy).attr("dy", "0.35em")
      .style("font-size", L.fs + "px").text(s.name);
  });
}

// (a)
drawPanel({
  left: 105, right: 640, top: 38.3, bottom: 322.7,
  yDomain: [-500, 700], yTicks: aTicks, titleX: 40, titleY: 176,
  label: [11, 32, "(a)"],
  series: [
    { name: "Elec", color: RED, width: 4, legendWidth: 4.5, data: pts(aTime, aElec) },
    { name: "vdW", color: BLUE, width: 2, data: pts(aVdwTime, aVdw) },
    { name: "Total", color: GREEN, width: 2, data: pts(aTime, aTotal) },
    { name: "Total + ions", color: BLACK, width: 1.6, legendWidth: 2, data: pts(aIonsTime, aIons) }
  ],
  legend: { x: 129, y: 44, w: 175, h: 97, rows: [57, 82, 106, 129], x1: 155, x2: 190, tx: 191, fs: 16 }
});

// (b)
drawPanel({
  left: 734, right: 1238, top: 32.3, bottom: 328.5,
  yDomain: [-9, 9], yTicks: bTicks, titleX: 685, titleY: 180,
  label: [649, 31, "(b)"],
  series: [
    { name: "Elec", color: RED, width: 2, data: pts(bTime, bElec) },
    { name: "vdW", color: BLUE, width: 2, data: pts(bTime, bVdw) },
    { name: "Total", color: GREEN, width: 2, data: pts(bTime, bTotal) }
  ],
  legend: { x: 1143, y: 36, w: 85, h: 74, rows: [48, 72, 97], x1: 1150, x2: 1183, tx: 1185, fs: 15 }
});

// (c)
drawPanel({
  bg: [0, 331, 645, 357], left: 105, right: 640, top: 346.7, bottom: 633.3,
  yDomain: [-900, 0], yTicks: cTicks, titleX: 43, titleY: 500, xLabels: true,
  label: [11, 361, "(c)"],
  series: [
    { name: "Elec", color: RED, width: 2.2, data: pts(cTime, cElec) },
    { name: "vdW", color: BLUE, width: 2, data: pts(cVdwTime, cVdw) },
    { name: "Total", color: GREEN, width: 2, data: pts(cTime, cTotal) }
  ],
  legend: { x: 517, y: 389, w: 117, h: 78, rows: [402, 428, 455], x1: 540, x2: 572, tx: 574, fs: 16 }
});

// (d)
drawPanel({
  bg: [656, 331, 596, 357], left: 734, right: 1238, top: 348, bottom: 635,
  yDomain: [-33, 0], yTicks: dTicks, titleX: 683, titleY: 497, xLabels: true,
  label: [649, 361, "(d)"],
  series: [
    { name: "Elec", color: RED, width: 2, data: pts(dElecTime, dElec) },
    { name: "vdW", color: BLUE, width: 2, data: pts(dTime, dVdw) },
    { name: "Total", color: GREEN, width: 2, data: pts(dTime, dTotal) }
  ],
  legend: { x: 1120, y: 537, w: 104, h: 78, rows: [550, 577, 602], x1: 1137, x2: 1169, tx: 1171, fs: 16 }
});
</script>
</body>
</html>
